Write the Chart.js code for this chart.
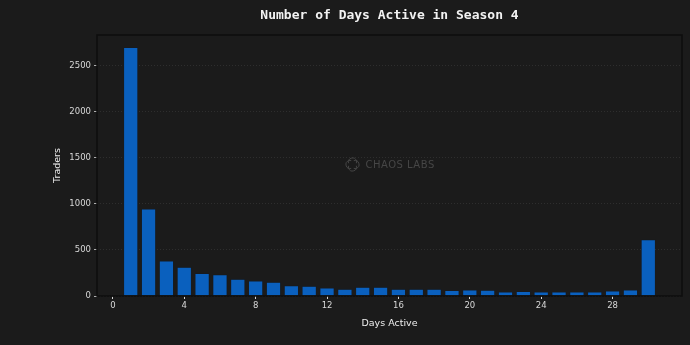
<!DOCTYPE html>
<html>
<head>
<meta charset="utf-8">
<script src="https://cdn.jsdelivr.net/npm/chart.js@4.4.1/dist/chart.umd.min.js"></script>
<style>
  html, body { margin: 0; padding: 0; background: #1b1b1b; }
  #wrap { width: 690px; height: 345px; }
</style>
</head>
<body>
<div id="wrap"><canvas id="daysChart"></canvas></div>
<script>
// days active per trader, season 4
const days = [1, 2, 3, 4, 5, 6, 7, 8, 9, 10, 11, 12, 13, 14, 15,
              16, 17, 18, 19, 20, 21, 22, 23, 24, 25, 26, 27, 28, 29, 30];
const traders = [2700, 945, 380, 313, 245, 230, 183, 162, 150, 110,
                 106, 86, 74, 94, 94, 74, 74, 74, 60, 64,
                 62, 44, 50, 44, 44, 44, 44, 53, 64, 612];
const xTicks = [0, 4, 8, 12, 16, 20, 24, 28];
const yTicks = [0, 500, 1000, 1500, 2000, 2500];

const titleText = 'Number of Days Active in Season 4';
const tickColor = '#d8d8d8';

// title centred over the plot, frame and watermark
const decor = {
  id: 'decor',
  beforeDatasetsDraw(chart) {
    const { ctx, chartArea: a } = chart;
    const cx = (a.left + a.right) / 2;
    const cy = (a.top + a.bottom) / 2;
    ctx.save();
    ctx.strokeStyle = '#464646';
    ctx.fillStyle = '#464646';
    ctx.lineWidth = 1;
    // logo
    const lx = cx - 37, ly = cy - 1;
    ctx.beginPath();
    ctx.arc(lx, ly - 2.5, 4, Math.PI * 0.9, Math.PI * 2.1);
    ctx.stroke();
    ctx.beginPath();
    ctx.arc(lx, ly + 2.5, 4, Math.PI * -0.1, Math.PI * 1.1);
    ctx.stroke();
    ctx.beginPath();
    ctx.arc(lx - 2.5, ly, 4, Math.PI * 0.4, Math.PI * 1.6);
    ctx.stroke();
    ctx.beginPath();
    ctx.arc(lx + 2.5, ly, 4, Math.PI * 1.4, Math.PI * 2.6);
    ctx.stroke();
    ctx.font = '10px "DejaVu Sans"';
    ctx.textBaseline = 'middle';
    ctx.textAlign = 'left';
    if ('letterSpacing' in ctx) ctx.letterSpacing = '0.5px';
    ctx.fillText('CHAOS LABS', cx - 24, cy);
    ctx.restore();
  },
  afterDraw(chart) {
    const { ctx, chartArea: a } = chart;
    ctx.save();
    ctx.strokeStyle = '#0e0e0e';
    ctx.lineWidth = 1.5;
    ctx.strokeRect(a.left, a.top, a.right - a.left, a.bottom - a.top);
    ctx.fillStyle = '#f2f2f2';
    ctx.font = 'bold 13px "DejaVu Sans Mono"';
    ctx.textAlign = 'center';
    ctx.textBaseline = 'middle';
    ctx.fillText(titleText, (a.left + a.right) / 2, 16);
    ctx.restore();
  }
};

new Chart(document.getElementById('daysChart'), {
  type: 'bar',
  data: {
    labels: days,
    datasets: [{
      data: days.map((d, i) => ({ x: d, y: traders[i] })),
      backgroundColor: '#0a60be',
      borderColor: 'rgba(8, 32, 64, 0.6)',
      borderWidth: 0.5,
      barPercentage: 0.8,
      categoryPercentage: 1.0
    }]
  },
  options: {
    responsive: true,
    maintainAspectRatio: false,
    animation: false,
    layout: { padding: { left: 0, right: 8, top: 35, bottom: 0 } },
    plugins: {
      legend: { display: false },
      tooltip: { enabled: false }
    },
    scales: {
      x: {
        type: 'linear',
        offset: false,
        min: -0.89,
        max: 31.89,
        afterBuildTicks: s => { s.ticks = xTicks.map(v => ({ value: v })); },
        afterFit: s => { s.height = 49; },
        grid: {
          offset: false,
          drawOnChartArea: false,
          drawTicks: true,
          tickLength: 3,
          tickColor: tickColor
        },
        border: { display: false },
        ticks: {
          color: tickColor,
          font: { family: 'DejaVu Sans', size: 8.5 },
          padding: 2,
          maxRotation: 0,
          callback: v => String(v)
        },
        title: {
          display: true,
          text: 'Days Active',
          color: '#eeeeee',
          font: { family: 'DejaVu Sans', size: 9.5 },
          padding: { top: 0, bottom: 16 }
        }
      },
      y: {
        min: 0,
        max: 2835,
        afterBuildTicks: s => { s.ticks = yTicks.map(v => ({ value: v })); },
        afterFit: s => { s.width = 97; },
        grid: {
          color: '#333333',
          lineWidth: 0.8,
          drawTicks: true,
          tickLength: 3,
          tickColor: tickColor,
          tickBorderDash: []
        },
        border: { display: false, dash: [1, 2] },
        ticks: {
          color: tickColor,
          font: { family: 'DejaVu Sans', size: 8.5 },
          padding: 3,
          callback: v => String(v)
        },
        title: {
          display: true,
          text: 'Traders',
          color: '#eeeeee',
          font: { family: 'DejaVu Sans', size: 9.5 },
          padding: { top: 52, bottom: 0 }
        }
      }
    }
  },
  plugins: [decor]
});
</script>
</body>
</html>
